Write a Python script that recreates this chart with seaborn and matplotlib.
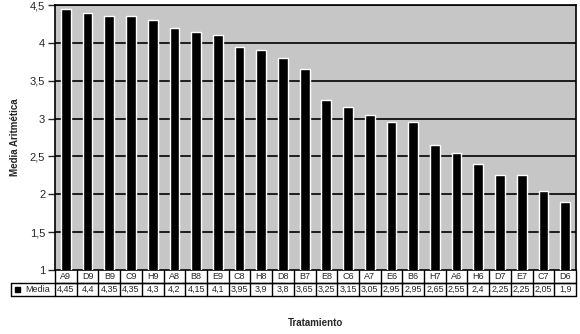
import matplotlib
matplotlib.use("Agg")
import matplotlib.pyplot as plt
import seaborn as sns
import pandas as pd
from matplotlib.ticker import FuncFormatter
from matplotlib.lines import Line2D
from matplotlib.patches import Rectangle

# datos
tratamientos = ["A9", "D9", "B9", "C9", "H9", "A8", "B8", "E9", "C8", "H8", "D8", "B7", "E8",
                "C6", "A7", "E6", "B6", "H7", "A6", "H6", "D7", "E7", "C7", "D6"]
media = [4.45, 4.4, 4.35, 4.35, 4.3, 4.2, 4.15, 4.1, 3.95, 3.9, 3.8, 3.65, 3.25,
         3.15, 3.05, 2.95, 2.95, 2.65, 2.55, 2.4, 2.25, 2.25, 2.05, 1.9]
y_ticks = [1, 1.5, 2, 2.5, 3, 3.5, 4, 4.5]

df = pd.DataFrame({"Tratamiento": tratamientos, "Media": media})

sns.set_style("white")
plt.rcParams["font.family"] = ["Liberation Sans", "DejaVu Sans"]

fig = plt.figure(figsize=(5.8, 3.34), dpi=100)
W, H = 580, 334
x0, x1, y0, y1 = 55, 576, 5, 270
ax = fig.add_axes([x0 / W, 1 - y1 / H, (x1 - x0) / W, (y1 - y0) / H])
ax.set_facecolor("#C6C6C6")

sns.barplot(data=df, x="Tratamiento", y="Media", color="black", width=0.45,
            saturation=1, ax=ax, zorder=3)

ax.set_ylim(1, 4.5)
ax.set_xlim(-0.5, len(tratamientos) - 0.5)
ax.set_yticks(y_ticks)
ax.yaxis.set_major_formatter(FuncFormatter(lambda v, p: f"{v:g}".replace(".", ",")))
for t in y_ticks[1:]:
    ax.axhline(t, color="black", lw=1.2, zorder=1)
ax.tick_params(axis="y", direction="out", length=5, width=1, labelsize=8, pad=2, left=True)
ax.tick_params(axis="x", bottom=False, labelbottom=False)
for s in ax.spines.values():
    s.set_color("black")
    s.set_linewidth(1.2)
ax.set_xlabel("")
ax.set_ylabel("Media Aritmética", fontsize=7, fontweight="bold", labelpad=7)

# tabla de datos bajo el eje
ph = y1 - y0
r1 = -13 / ph
r2 = -26 / ph
n = len(tratamientos)
tr = ax.get_xaxis_transform()
lw = 1.0
for i, (cat, val) in enumerate(zip(tratamientos, media)):
    ax.text(i, r1 / 2, cat, transform=tr, ha="center", va="center", fontsize=6.5, clip_on=False)
    ax.text(i, (r1 + r2) / 2, f"{val:g}".replace(".", ","), transform=tr, ha="center",
            va="center", fontsize=6.5, clip_on=False)
for k in range(n + 1):
    ax.add_line(Line2D([k - 0.5, k - 0.5], [0, r2], transform=tr, color="black", lw=lw, clip_on=False))
# lineas horizontales
left_frac = (11 - x0) / (x1 - x0)
ax.add_line(Line2D([-0.5, n - 0.5], [r1, r1], transform=tr, color="black", lw=lw, clip_on=False))
ax.add_line(Line2D([left_frac, 1], [r1, r1], transform=ax.transAxes, color="black", lw=lw, clip_on=False))
ax.add_line(Line2D([left_frac, 1], [r2, r2], transform=ax.transAxes, color="black", lw=lw, clip_on=False))
ax.add_line(Line2D([left_frac, left_frac], [r1, r2], transform=ax.transAxes, color="black", lw=lw, clip_on=False))
# leyenda en la tabla
sq = (5 / ph)
ax.add_patch(Rectangle((left_frac + 4 / (x1 - x0), (r1 + r2) / 2 - sq / 2), 5 / (x1 - x0), sq,
                       transform=ax.transAxes, color="black", clip_on=False))
ax.text(left_frac + 14 / (x1 - x0), (r1 + r2) / 2, "Media", transform=ax.transAxes,
        ha="left", va="center", fontsize=6.5, clip_on=False)

fig.text(316 / W, 1 - 323 / H, "Tratamiento", ha="center", va="center", fontsize=7, fontweight="bold")

fig.savefig("out.png", dpi=100)
